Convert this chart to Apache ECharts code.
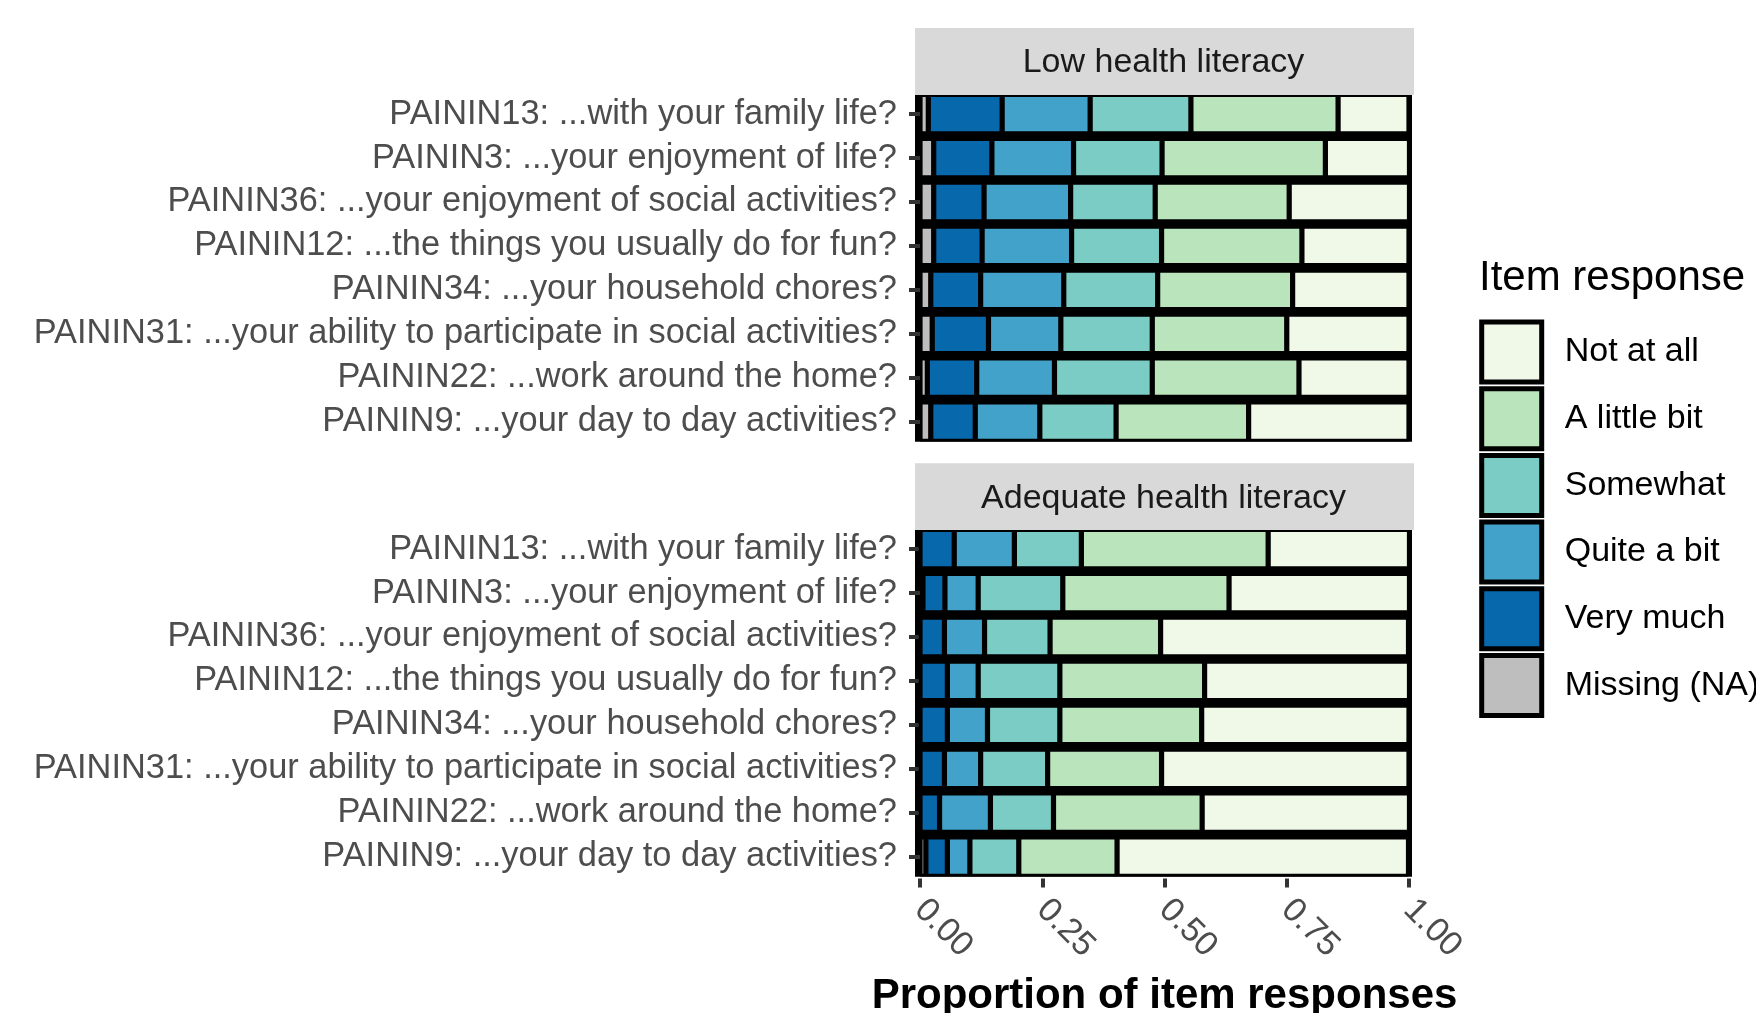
<!DOCTYPE html>
<html><head><meta charset="utf-8">
<script src="https://cdn.jsdelivr.net/npm/echarts@6/dist/echarts.min.js"></script>
<style>html,body{margin:0;padding:0;background:#fff}#c{width:1756px;height:1013px}</style>
</head><body><div id="c"></div>
<script>
const items = [
  'PAININ13: ...with your family life?',
  'PAININ3: ...your enjoyment of life?',
  'PAININ36: ...your enjoyment of social activities?',
  'PAININ12: ...the things you usually do for fun?',
  'PAININ34: ...your household chores?',
  'PAININ31: ...your ability to participate in social activities?',
  'PAININ22: ...work around the home?',
  'PAININ9: ...your day to day activities?'
];
const panels = ['Low health literacy', 'Adequate health literacy'];
const responses = ['Missing (NA)', 'Very much', 'Quite a bit', 'Somewhat', 'A little bit', 'Not at all'];
const legendOrder = ['Not at all', 'A little bit', 'Somewhat', 'Quite a bit', 'Very much', 'Missing (NA)'];
const colors = ['#BEBEBE', '#0868AC', '#43A2CA', '#7BCCC4', '#BAE4BC', '#F0F9E8'];
const xTicks = [0, 0.25, 0.5, 0.75, 1];
const legendTitle = 'Item response';
const xTitle = 'Proportion of item responses';

// Low health literacy
const lowMissing  = [0.017, 0.028, 0.028, 0.028, 0.022, 0.025, 0.015, 0.022];
const lowVeryMuch = [0.151, 0.119, 0.103, 0.099, 0.102, 0.115, 0.101, 0.091];
const lowQuite    = [0.180, 0.167, 0.177, 0.183, 0.170, 0.148, 0.159, 0.132];
const lowSomewhat = [0.206, 0.181, 0.173, 0.184, 0.192, 0.187, 0.200, 0.156];
const lowLittle   = [0.301, 0.334, 0.274, 0.287, 0.276, 0.275, 0.300, 0.271];
const lowNot      = [0.145, 0.172, 0.246, 0.219, 0.238, 0.250, 0.225, 0.328];
// Adequate health literacy
const adqMissing  = [0.000, 0.006, 0.000, 0.000, 0.000, 0.000, 0.000, 0.012];
const adqVeryMuch = [0.070, 0.045, 0.050, 0.056, 0.056, 0.050, 0.040, 0.044];
const adqQuite    = [0.123, 0.068, 0.082, 0.063, 0.082, 0.074, 0.104, 0.046];
const adqSomewhat = [0.137, 0.173, 0.134, 0.167, 0.148, 0.137, 0.129, 0.100];
const adqLittle   = [0.382, 0.340, 0.226, 0.296, 0.290, 0.233, 0.304, 0.201];
const adqNot      = [0.289, 0.369, 0.507, 0.419, 0.424, 0.506, 0.424, 0.596];

const panelData = [
  [lowMissing, lowVeryMuch, lowQuite, lowSomewhat, lowLittle, lowNot],
  [adqMissing, adqVeryMuch, adqQuite, adqSomewhat, adqLittle, adqNot]
];

const FONT = "'Liberation Sans', Arial, sans-serif";
const gridTops = [92.2, 527.2];
const panelRects = [[915, 95, 497, 346.7], [915, 530, 497, 346.7]];
const stripRects = [[915, 28, 499, 67], [915, 463.3, 499, 66.7]];

const chart = echarts.init(document.getElementById('c'), null, {renderer: 'canvas'});

const grids = gridTops.map(t => ({left: 920, width: 489, top: t, height: 351.4,
  containLabel: false, outerBoundsMode: 'none'}));

const xAxes = panels.map((p, i) => ({
  type: 'value', gridIndex: i, min: xTicks[0], max: xTicks[xTicks.length - 1], interval: 0.25,
  axisLine: {show: false}, splitLine: {show: false},
  axisTick: {show: i === 1, length: 9, lineStyle: {color: '#333333', width: 4}},
  axisLabel: {show: i === 1, rotate: -45, margin: 26, color: '#4D4D4D', fontSize: 34, fontFamily: FONT,
    showMinLabel: true, showMaxLabel: true, formatter: v => v.toFixed(2)},
  name: i === 1 ? xTitle : '', nameLocation: 'middle', nameGap: 97, nameMoveOverlap: false,
  nameTextStyle: {fontSize: 42, fontWeight: 'bold', color: '#000', fontFamily: FONT}
}));

const yAxes = panels.map((p, i) => ({
  type: 'category', gridIndex: i, data: items, inverse: true, offset: 5,
  axisLine: {show: false},
  axisTick: {show: true, length: 11, alignWithLabel: true, interval: 0, lineStyle: {color: '#333333', width: 4}},
  axisLabel: {margin: 18, interval: 0, color: '#4D4D4D', fontSize: 34.4, fontFamily: FONT}
}));

const series = [];
panels.forEach((p, pi) => {
  responses.forEach((r, ri) => {
    series.push({
      type: 'bar', name: r, stack: 'panel' + pi, xAxisIndex: pi, yAxisIndex: pi,
      data: panelData[pi][ri], barWidth: 39.5,
      itemStyle: {color: colors[ri], borderColor: '#000', borderWidth: 2.6},
      emphasis: {disabled: true}
    });
  });
});

const graphic = [];
panelRects.forEach(r => graphic.push({type: 'rect', z: 0, silent: true,
  shape: {x: r[0], y: r[1], width: r[2], height: r[3]}, style: {fill: '#000'}}));
stripRects.forEach((r, i) => {
  graphic.push({type: 'rect', z: 50, silent: true,
    shape: {x: r[0], y: r[1], width: r[2], height: r[3]}, style: {fill: '#D9D9D9'}});
  graphic.push({type: 'text', z: 51, silent: true, x: 1163.5, y: r[1] + r[3] / 2 + 1.6,
    style: {text: panels[i], fill: '#1A1A1A', fontSize: 34, fontFamily: FONT, align: 'center', verticalAlign: 'middle'}});
});

chart.setOption({
  animation: false,
  backgroundColor: '#fff',
  title: {text: legendTitle, left: 1474, top: 252, padding: 5,
    textStyle: {fontSize: 42, fontWeight: 'normal', color: '#000', fontFamily: FONT}},
  legend: {
    data: legendOrder, orient: 'vertical', left: 1479.2, top: 319.5, padding: 0,
    itemWidth: 60, itemHeight: 60, itemGap: 1.7, icon: 'rect', selectedMode: false,
    itemStyle: {borderColor: '#000', borderWidth: 5},
    textStyle: {fontSize: 34, color: '#000', fontFamily: FONT, padding: [3.4, 0, 0, 18]}
  },
  grid: grids, xAxis: xAxes, yAxis: yAxes, series: series, graphic: graphic
});
</script></body></html>
